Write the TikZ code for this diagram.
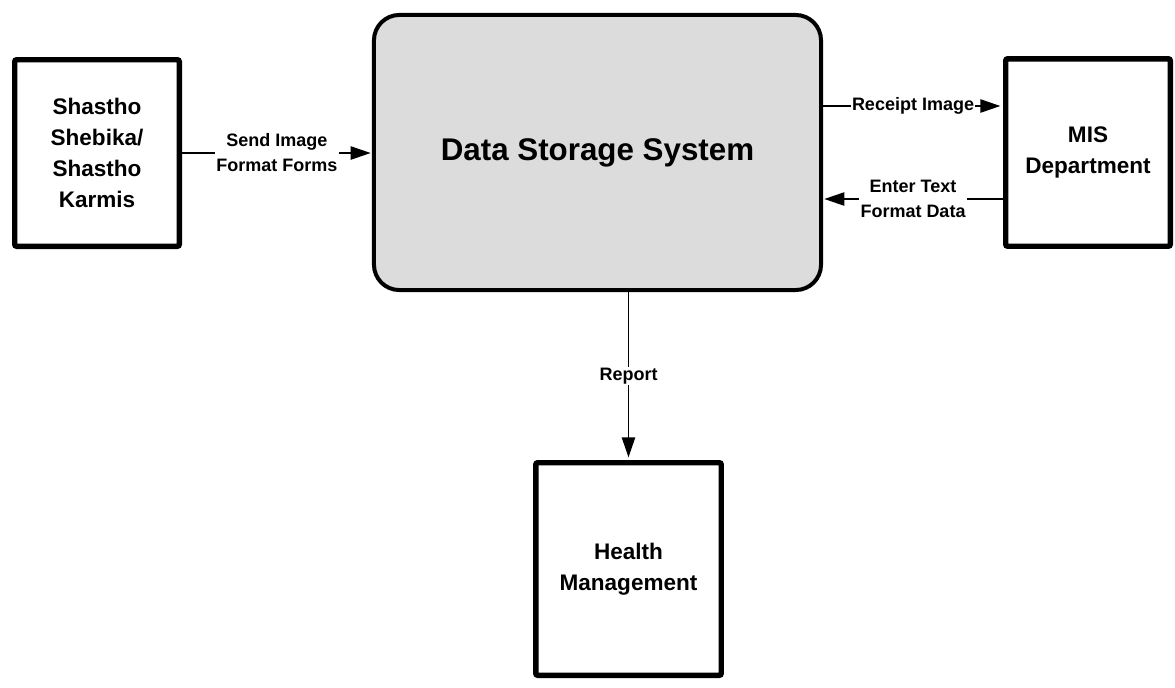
\documentclass[tikz,border=0pt]{standalone}
\usepackage{fontspec}
\setmainfont{Liberation Sans}
\usetikzlibrary{arrows.meta,calc}

\definecolor{storegray}{RGB}{220,220,220}

\tikzset{
    unitbox/.style={draw, line width=4.1pt, rounded corners=1.5pt, fill=white,
        align=center, font=\fontsize{16.9}{23.25}\selectfont\bfseries},
    storebox/.style={draw, line width=3pt, rounded corners=19pt, fill=storegray,
        font=\fontsize{23.5}{28}\selectfont\bfseries},
    flow/.style={-{Triangle[length=15pt,width=10pt]}, line width=1.1pt},
    flowlabel/.style={fill=white, inner sep=1pt, align=center,
        font=\fontsize{13.5}{18.75}\selectfont\bfseries},
}

\begin{document}
\begin{tikzpicture}[x=0.75pt,y=-0.75pt]
    \useasboundingbox (0,0) rectangle (1175,687);

    % boxes
    \node[storebox, minimum width=335.3pt, minimum height=206.3pt] (dss) at (597.5,152.5) {Data Storage System};
    \node[unitbox, minimum width=123.4pt, minimum height=139.9pt] (sk) at (97,153) {Shastho\\Shebika/\\Shastho\\Karmis};
    \node[unitbox, minimum width=123.4pt, minimum height=140.6pt] (mis) at (1088,152.5) {MIS\\Department};
    \node[unitbox, minimum width=139.1pt, minimum height=159.4pt] (hm) at (628.5,569) {Health\\Management};

    \coordinate (rcpt) at ($(dss.east)+(0,-46.5)$);
    \coordinate (entr) at ($(mis.west)+(0,46.5)$);

    % flows
    \draw[flow, shorten >=1pt] (sk.east) -- node[flowlabel] {Send Image\\Format Forms} (sk.east -| dss.west);
    \draw[flow, shorten >=2pt] (rcpt) -- node[flowlabel] {Receipt Image} (rcpt -| mis.west);
    \draw[flow, shorten >=1pt] (entr) -- node[flowlabel] {Enter Text\\Format Data} (entr -| dss.east);
    \draw[flow, shorten >=2pt] (dss.south -| hm.north) -- node[flowlabel] {Report} (hm.north);

\end{tikzpicture}
\end{document}
